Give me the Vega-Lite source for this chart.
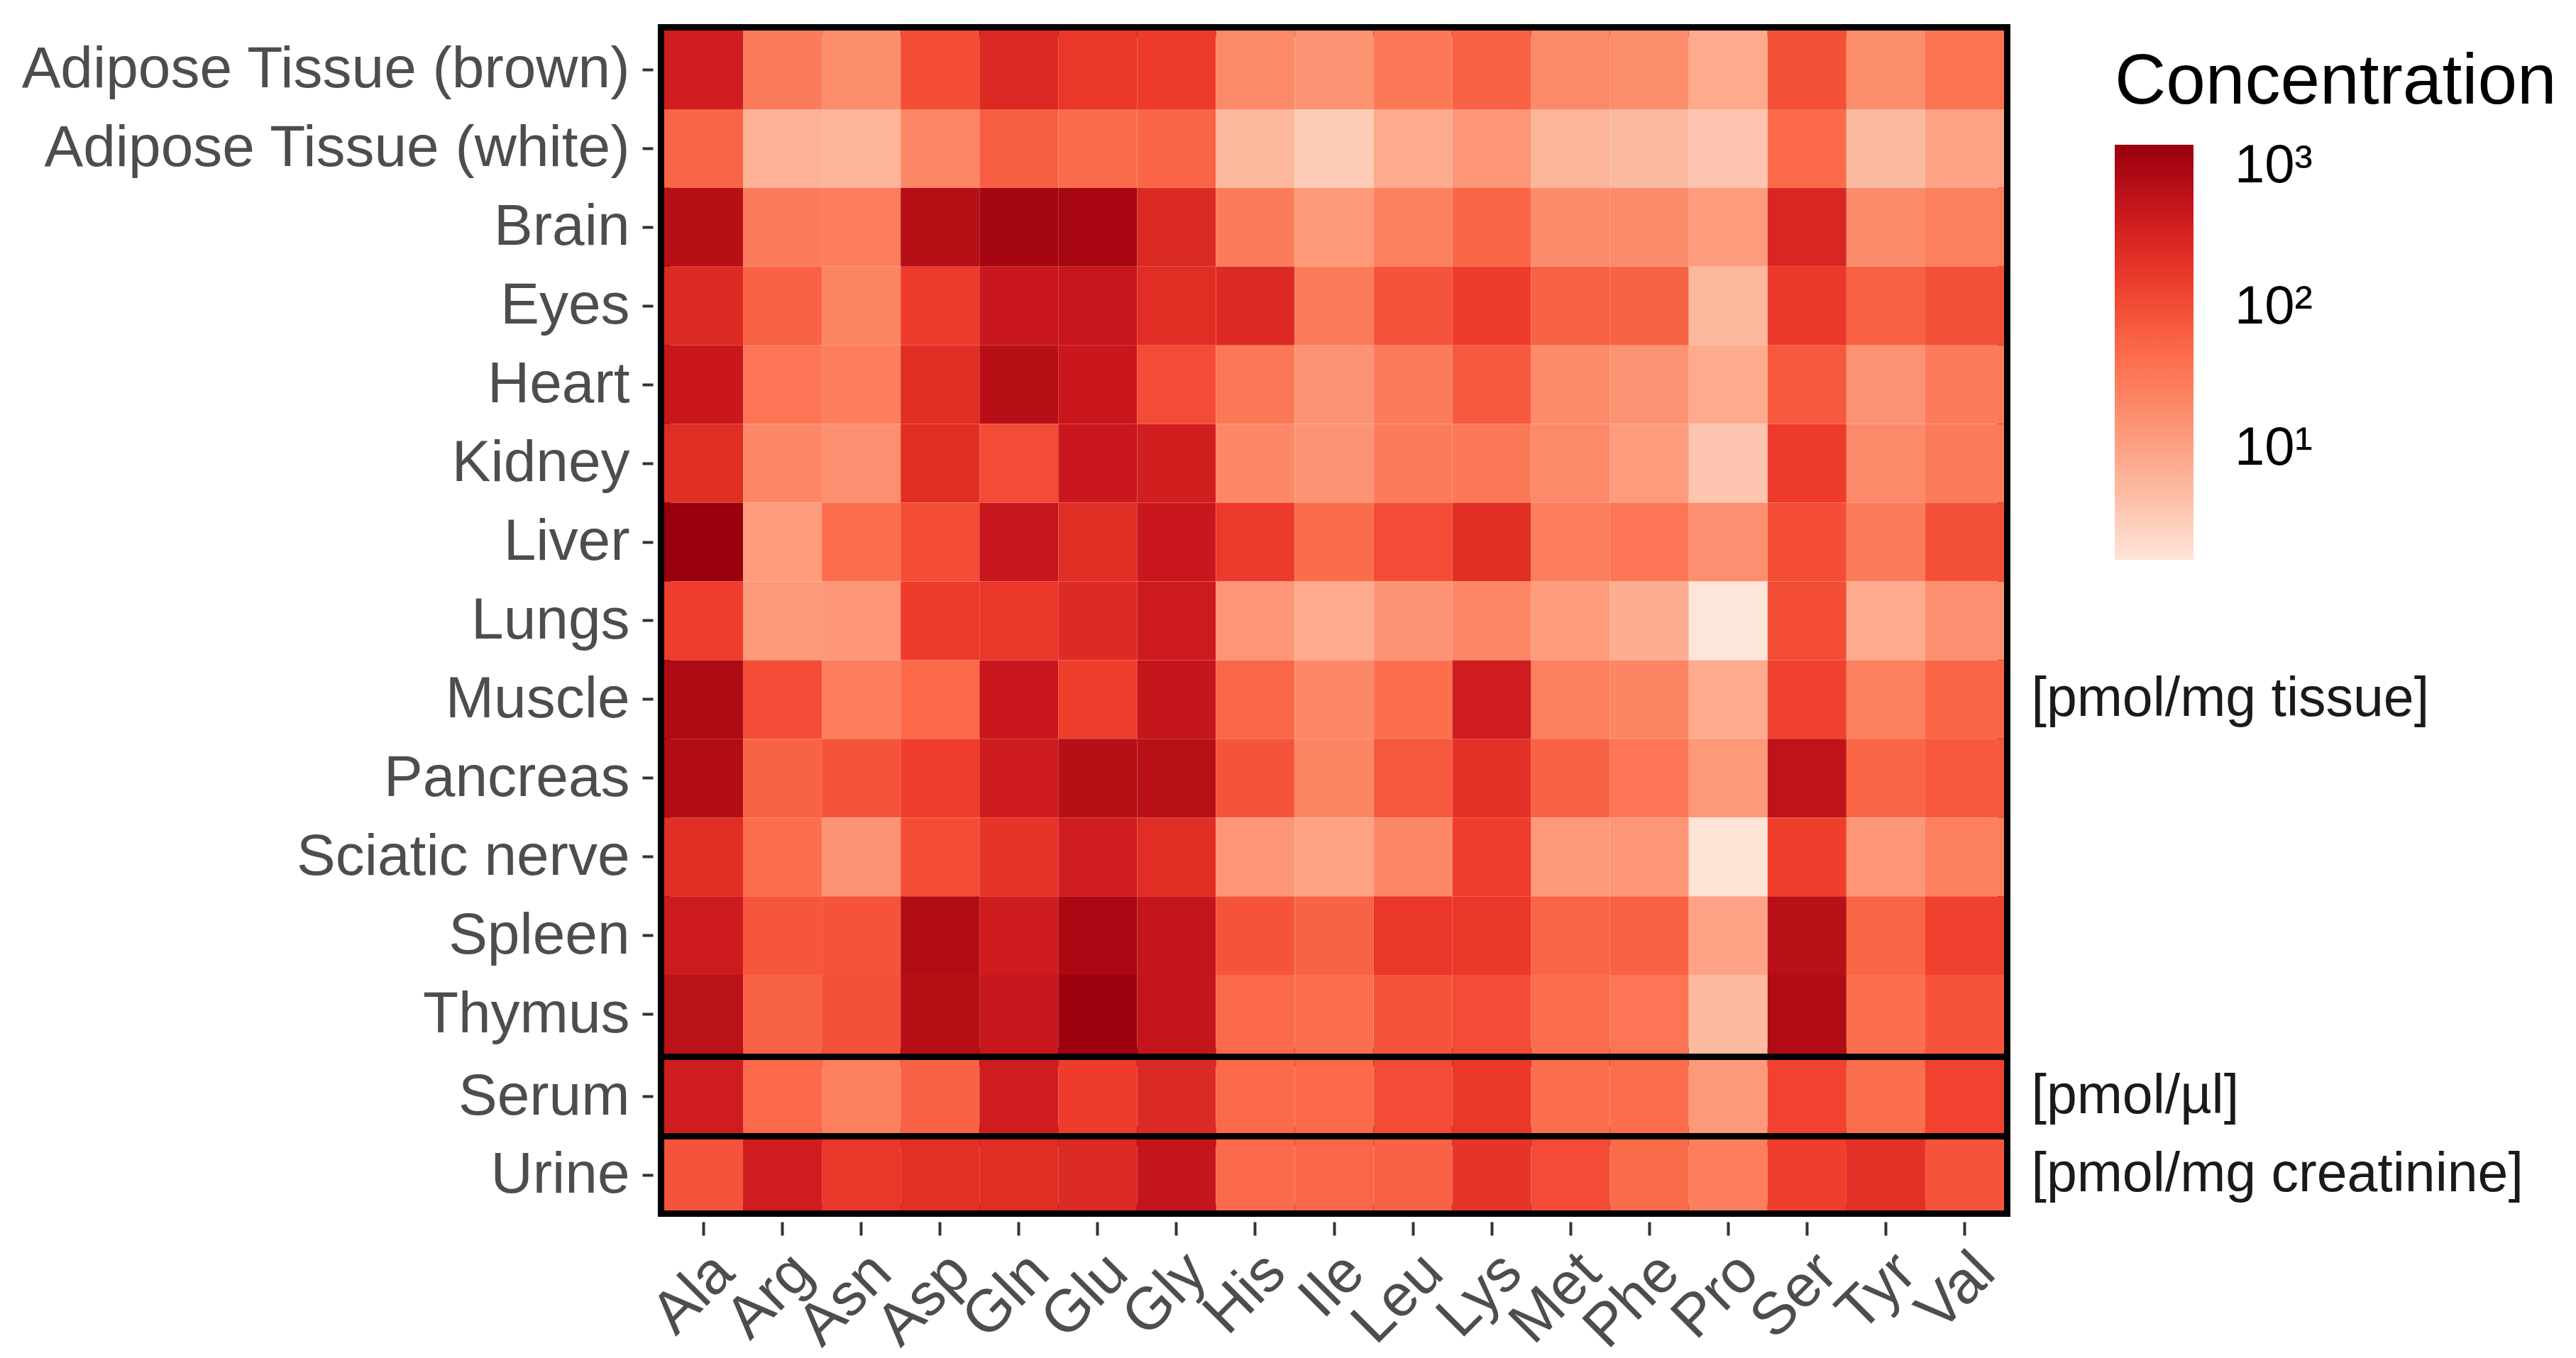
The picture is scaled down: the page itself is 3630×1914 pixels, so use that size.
{
  "$schema": "https://vega.github.io/schema/vega-lite/v6.json",
  "padding": {"left": 19, "top": 34, "right": 0, "bottom": 0},
  "background": "white",
  "config": {
    "font": "Liberation Sans",
    "view": {"stroke": "black", "strokeWidth": 18},
    "axis": {"grid": false, "domain": false, "labelFont": "Liberation Sans", "labelColor": "#4d4d4d", "labelFontSize": 82, "labelLimit": 3000, "tickColor": "#333333", "tickWidth": 4, "title": null}
  },
  "datasets": {
    "conc": [
      {"tissue":"Adipose Tissue (brown)","panel":"tissue","amino":"Ala","value":400},{"tissue":"Adipose Tissue (brown)","panel":"tissue","amino":"Arg","value":30},{"tissue":"Adipose Tissue (brown)","panel":"tissue","amino":"Asn","value":18},{"tissue":"Adipose Tissue (brown)","panel":"tissue","amino":"Asp","value":100},{"tissue":"Adipose Tissue (brown)","panel":"tissue","amino":"Gln","value":280},{"tissue":"Adipose Tissue (brown)","panel":"tissue","amino":"Glu","value":170},{"tissue":"Adipose Tissue (brown)","panel":"tissue","amino":"Gly","value":155},{"tissue":"Adipose Tissue (brown)","panel":"tissue","amino":"His","value":20},{"tissue":"Adipose Tissue (brown)","panel":"tissue","amino":"Ile","value":15},{"tissue":"Adipose Tissue (brown)","panel":"tissue","amino":"Leu","value":33},{"tissue":"Adipose Tissue (brown)","panel":"tissue","amino":"Lys","value":60},{"tissue":"Adipose Tissue (brown)","panel":"tissue","amino":"Met","value":20},{"tissue":"Adipose Tissue (brown)","panel":"tissue","amino":"Phe","value":18},{"tissue":"Adipose Tissue (brown)","panel":"tissue","amino":"Pro","value":8},{"tissue":"Adipose Tissue (brown)","panel":"tissue","amino":"Ser","value":95},{"tissue":"Adipose Tissue (brown)","panel":"tissue","amino":"Tyr","value":18},{"tissue":"Adipose Tissue (brown)","panel":"tissue","amino":"Val","value":38},
      {"tissue":"Adipose Tissue (white)","panel":"tissue","amino":"Ala","value":55},{"tissue":"Adipose Tissue (white)","panel":"tissue","amino":"Arg","value":6.5},{"tissue":"Adipose Tissue (white)","panel":"tissue","amino":"Asn","value":6},{"tissue":"Adipose Tissue (white)","panel":"tissue","amino":"Asp","value":22},{"tissue":"Adipose Tissue (white)","panel":"tissue","amino":"Gln","value":65},{"tissue":"Adipose Tissue (white)","panel":"tissue","amino":"Glu","value":45},{"tissue":"Adipose Tissue (white)","panel":"tissue","amino":"Gly","value":55},{"tissue":"Adipose Tissue (white)","panel":"tissue","amino":"His","value":5.5},{"tissue":"Adipose Tissue (white)","panel":"tissue","amino":"Ile","value":3.3},{"tissue":"Adipose Tissue (white)","panel":"tissue","amino":"Leu","value":8},{"tissue":"Adipose Tissue (white)","panel":"tissue","amino":"Lys","value":14},{"tissue":"Adipose Tissue (white)","panel":"tissue","amino":"Met","value":6},{"tissue":"Adipose Tissue (white)","panel":"tissue","amino":"Phe","value":5},{"tissue":"Adipose Tissue (white)","panel":"tissue","amino":"Pro","value":3.8},{"tissue":"Adipose Tissue (white)","panel":"tissue","amino":"Ser","value":47},{"tissue":"Adipose Tissue (white)","panel":"tissue","amino":"Tyr","value":5},{"tissue":"Adipose Tissue (white)","panel":"tissue","amino":"Val","value":10},
      {"tissue":"Brain","panel":"tissue","amino":"Ala","value":700},{"tissue":"Brain","panel":"tissue","amino":"Arg","value":30},{"tissue":"Brain","panel":"tissue","amino":"Asn","value":28},{"tissue":"Brain","panel":"tissue","amino":"Asp","value":720},{"tissue":"Brain","panel":"tissue","amino":"Gln","value":1050},{"tissue":"Brain","panel":"tissue","amino":"Glu","value":1000},{"tissue":"Brain","panel":"tissue","amino":"Gly","value":280},{"tissue":"Brain","panel":"tissue","amino":"His","value":30},{"tissue":"Brain","panel":"tissue","amino":"Ile","value":13},{"tissue":"Brain","panel":"tissue","amino":"Leu","value":26},{"tissue":"Brain","panel":"tissue","amino":"Lys","value":55},{"tissue":"Brain","panel":"tissue","amino":"Met","value":19},{"tissue":"Brain","panel":"tissue","amino":"Phe","value":19},{"tissue":"Brain","panel":"tissue","amino":"Pro","value":12},{"tissue":"Brain","panel":"tissue","amino":"Ser","value":300},{"tissue":"Brain","panel":"tissue","amino":"Tyr","value":19},{"tissue":"Brain","panel":"tissue","amino":"Val","value":27},
      {"tissue":"Eyes","panel":"tissue","amino":"Ala","value":260},{"tissue":"Eyes","panel":"tissue","amino":"Arg","value":60},{"tissue":"Eyes","panel":"tissue","amino":"Asn","value":23},{"tissue":"Eyes","panel":"tissue","amino":"Asp","value":150},{"tissue":"Eyes","panel":"tissue","amino":"Gln","value":470},{"tissue":"Eyes","panel":"tissue","amino":"Glu","value":500},{"tissue":"Eyes","panel":"tissue","amino":"Gly","value":240},{"tissue":"Eyes","panel":"tissue","amino":"His","value":260},{"tissue":"Eyes","panel":"tissue","amino":"Ile","value":30},{"tissue":"Eyes","panel":"tissue","amino":"Leu","value":85},{"tissue":"Eyes","panel":"tissue","amino":"Lys","value":150},{"tissue":"Eyes","panel":"tissue","amino":"Met","value":60},{"tissue":"Eyes","panel":"tissue","amino":"Phe","value":58},{"tissue":"Eyes","panel":"tissue","amino":"Pro","value":5.5},{"tissue":"Eyes","panel":"tissue","amino":"Ser","value":165},{"tissue":"Eyes","panel":"tissue","amino":"Tyr","value":62},{"tissue":"Eyes","panel":"tissue","amino":"Val","value":95},
      {"tissue":"Heart","panel":"tissue","amino":"Ala","value":480},{"tissue":"Heart","panel":"tissue","amino":"Arg","value":35},{"tissue":"Heart","panel":"tissue","amino":"Asn","value":28},{"tissue":"Heart","panel":"tissue","amino":"Asp","value":240},{"tissue":"Heart","panel":"tissue","amino":"Gln","value":700},{"tissue":"Heart","panel":"tissue","amino":"Glu","value":480},{"tissue":"Heart","panel":"tissue","amino":"Gly","value":105},{"tissue":"Heart","panel":"tissue","amino":"His","value":34},{"tissue":"Heart","panel":"tissue","amino":"Ile","value":15},{"tissue":"Heart","panel":"tissue","amino":"Leu","value":30},{"tissue":"Heart","panel":"tissue","amino":"Lys","value":75},{"tissue":"Heart","panel":"tissue","amino":"Met","value":19},{"tissue":"Heart","panel":"tissue","amino":"Phe","value":15},{"tissue":"Heart","panel":"tissue","amino":"Pro","value":8},{"tissue":"Heart","panel":"tissue","amino":"Ser","value":75},{"tissue":"Heart","panel":"tissue","amino":"Tyr","value":15},{"tissue":"Heart","panel":"tissue","amino":"Val","value":30},
      {"tissue":"Kidney","panel":"tissue","amino":"Ala","value":240},{"tissue":"Kidney","panel":"tissue","amino":"Arg","value":21},{"tissue":"Kidney","panel":"tissue","amino":"Asn","value":17},{"tissue":"Kidney","panel":"tissue","amino":"Asp","value":240},{"tissue":"Kidney","panel":"tissue","amino":"Gln","value":105},{"tissue":"Kidney","panel":"tissue","amino":"Glu","value":470},{"tissue":"Kidney","panel":"tissue","amino":"Gly","value":380},{"tissue":"Kidney","panel":"tissue","amino":"His","value":21},{"tissue":"Kidney","panel":"tissue","amino":"Ile","value":15},{"tissue":"Kidney","panel":"tissue","amino":"Leu","value":30},{"tissue":"Kidney","panel":"tissue","amino":"Lys","value":32},{"tissue":"Kidney","panel":"tissue","amino":"Met","value":20},{"tissue":"Kidney","panel":"tissue","amino":"Phe","value":12},{"tissue":"Kidney","panel":"tissue","amino":"Pro","value":3.8},{"tissue":"Kidney","panel":"tissue","amino":"Ser","value":155},{"tissue":"Kidney","panel":"tissue","amino":"Tyr","value":20},{"tissue":"Kidney","panel":"tissue","amino":"Val","value":30},
      {"tissue":"Liver","panel":"tissue","amino":"Ala","value":1400},{"tissue":"Liver","panel":"tissue","amino":"Arg","value":12},{"tissue":"Liver","panel":"tissue","amino":"Asn","value":44},{"tissue":"Liver","panel":"tissue","amino":"Asp","value":100},{"tissue":"Liver","panel":"tissue","amino":"Gln","value":500},{"tissue":"Liver","panel":"tissue","amino":"Glu","value":240},{"tissue":"Liver","panel":"tissue","amino":"Gly","value":470},{"tissue":"Liver","panel":"tissue","amino":"His","value":160},{"tissue":"Liver","panel":"tissue","amino":"Ile","value":46},{"tissue":"Liver","panel":"tissue","amino":"Leu","value":105},{"tissue":"Liver","panel":"tissue","amino":"Lys","value":230},{"tissue":"Liver","panel":"tissue","amino":"Met","value":29},{"tissue":"Liver","panel":"tissue","amino":"Phe","value":36},{"tissue":"Liver","panel":"tissue","amino":"Pro","value":17},{"tissue":"Liver","panel":"tissue","amino":"Ser","value":100},{"tissue":"Liver","panel":"tissue","amino":"Tyr","value":30},{"tissue":"Liver","panel":"tissue","amino":"Val","value":95},
      {"tissue":"Lungs","panel":"tissue","amino":"Ala","value":145},{"tissue":"Lungs","panel":"tissue","amino":"Arg","value":13},{"tissue":"Lungs","panel":"tissue","amino":"Asn","value":14},{"tissue":"Lungs","panel":"tissue","amino":"Asp","value":150},{"tissue":"Lungs","panel":"tissue","amino":"Gln","value":175},{"tissue":"Lungs","panel":"tissue","amino":"Glu","value":260},{"tissue":"Lungs","panel":"tissue","amino":"Gly","value":430},{"tissue":"Lungs","panel":"tissue","amino":"His","value":14},{"tissue":"Lungs","panel":"tissue","amino":"Ile","value":8},{"tissue":"Lungs","panel":"tissue","amino":"Leu","value":14.5},{"tissue":"Lungs","panel":"tissue","amino":"Lys","value":22},{"tissue":"Lungs","panel":"tissue","amino":"Met","value":12},{"tissue":"Lungs","panel":"tissue","amino":"Phe","value":7.5},{"tissue":"Lungs","panel":"tissue","amino":"Pro","value":1.63},{"tissue":"Lungs","panel":"tissue","amino":"Ser","value":100},{"tissue":"Lungs","panel":"tissue","amino":"Tyr","value":8},{"tissue":"Lungs","panel":"tissue","amino":"Val","value":17},
      {"tissue":"Muscle","panel":"tissue","amino":"Ala","value":850},{"tissue":"Muscle","panel":"tissue","amino":"Arg","value":105},{"tissue":"Muscle","panel":"tissue","amino":"Asn","value":28},{"tissue":"Muscle","panel":"tissue","amino":"Asp","value":50},{"tissue":"Muscle","panel":"tissue","amino":"Gln","value":470},{"tissue":"Muscle","panel":"tissue","amino":"Glu","value":140},{"tissue":"Muscle","panel":"tissue","amino":"Gly","value":530},{"tissue":"Muscle","panel":"tissue","amino":"His","value":52},{"tissue":"Muscle","panel":"tissue","amino":"Ile","value":21},{"tissue":"Muscle","panel":"tissue","amino":"Leu","value":42},{"tissue":"Muscle","panel":"tissue","amino":"Lys","value":400},{"tissue":"Muscle","panel":"tissue","amino":"Met","value":27},{"tissue":"Muscle","panel":"tissue","amino":"Phe","value":23},{"tissue":"Muscle","panel":"tissue","amino":"Pro","value":8},{"tissue":"Muscle","panel":"tissue","amino":"Ser","value":135},{"tissue":"Muscle","panel":"tissue","amino":"Tyr","value":27},{"tissue":"Muscle","panel":"tissue","amino":"Val","value":55},
      {"tissue":"Pancreas","panel":"tissue","amino":"Ala","value":800},{"tissue":"Pancreas","panel":"tissue","amino":"Arg","value":58},{"tissue":"Pancreas","panel":"tissue","amino":"Asn","value":85},{"tissue":"Pancreas","panel":"tissue","amino":"Asp","value":145},{"tissue":"Pancreas","panel":"tissue","amino":"Gln","value":420},{"tissue":"Pancreas","panel":"tissue","amino":"Glu","value":720},{"tissue":"Pancreas","panel":"tissue","amino":"Gly","value":680},{"tissue":"Pancreas","panel":"tissue","amino":"His","value":85},{"tissue":"Pancreas","panel":"tissue","amino":"Ile","value":23},{"tissue":"Pancreas","panel":"tissue","amino":"Leu","value":75},{"tissue":"Pancreas","panel":"tissue","amino":"Lys","value":210},{"tissue":"Pancreas","panel":"tissue","amino":"Met","value":60},{"tissue":"Pancreas","panel":"tissue","amino":"Phe","value":36},{"tissue":"Pancreas","panel":"tissue","amino":"Pro","value":13},{"tissue":"Pancreas","panel":"tissue","amino":"Ser","value":600},{"tissue":"Pancreas","panel":"tissue","amino":"Tyr","value":55},{"tissue":"Pancreas","panel":"tissue","amino":"Val","value":75},
      {"tissue":"Sciatic nerve","panel":"tissue","amino":"Ala","value":240},{"tissue":"Sciatic nerve","panel":"tissue","amino":"Arg","value":42},{"tissue":"Sciatic nerve","panel":"tissue","amino":"Asn","value":15},{"tissue":"Sciatic nerve","panel":"tissue","amino":"Asp","value":100},{"tissue":"Sciatic nerve","panel":"tissue","amino":"Gln","value":190},{"tissue":"Sciatic nerve","panel":"tissue","amino":"Glu","value":400},{"tissue":"Sciatic nerve","panel":"tissue","amino":"Gly","value":240},{"tissue":"Sciatic nerve","panel":"tissue","amino":"His","value":14},{"tissue":"Sciatic nerve","panel":"tissue","amino":"Ile","value":10},{"tissue":"Sciatic nerve","panel":"tissue","amino":"Leu","value":21},{"tissue":"Sciatic nerve","panel":"tissue","amino":"Lys","value":140},{"tissue":"Sciatic nerve","panel":"tissue","amino":"Met","value":13},{"tissue":"Sciatic nerve","panel":"tissue","amino":"Phe","value":14},{"tissue":"Sciatic nerve","panel":"tissue","amino":"Pro","value":1.7},{"tissue":"Sciatic nerve","panel":"tissue","amino":"Ser","value":140},{"tissue":"Sciatic nerve","panel":"tissue","amino":"Tyr","value":14},{"tissue":"Sciatic nerve","panel":"tissue","amino":"Val","value":27},
      {"tissue":"Spleen","panel":"tissue","amino":"Ala","value":430},{"tissue":"Spleen","panel":"tissue","amino":"Arg","value":82},{"tissue":"Spleen","panel":"tissue","amino":"Asn","value":85},{"tissue":"Spleen","panel":"tissue","amino":"Asp","value":820},{"tissue":"Spleen","panel":"tissue","amino":"Gln","value":420},{"tissue":"Spleen","panel":"tissue","amino":"Glu","value":950},{"tissue":"Spleen","panel":"tissue","amino":"Gly","value":530},{"tissue":"Spleen","panel":"tissue","amino":"His","value":85},{"tissue":"Spleen","panel":"tissue","amino":"Ile","value":58},{"tissue":"Spleen","panel":"tissue","amino":"Leu","value":170},{"tissue":"Spleen","panel":"tissue","amino":"Lys","value":170},{"tissue":"Spleen","panel":"tissue","amino":"Met","value":55},{"tissue":"Spleen","panel":"tissue","amino":"Phe","value":60},{"tissue":"Spleen","panel":"tissue","amino":"Pro","value":10},{"tissue":"Spleen","panel":"tissue","amino":"Ser","value":680},{"tissue":"Spleen","panel":"tissue","amino":"Tyr","value":55},{"tissue":"Spleen","panel":"tissue","amino":"Val","value":135},
      {"tissue":"Thymus","panel":"tissue","amino":"Ala","value":650},{"tissue":"Thymus","panel":"tissue","amino":"Arg","value":58},{"tissue":"Thymus","panel":"tissue","amino":"Asn","value":95},{"tissue":"Thymus","panel":"tissue","amino":"Asp","value":720},{"tissue":"Thymus","panel":"tissue","amino":"Gln","value":500},{"tissue":"Thymus","panel":"tissue","amino":"Glu","value":1300},{"tissue":"Thymus","panel":"tissue","amino":"Gly","value":530},{"tissue":"Thymus","panel":"tissue","amino":"His","value":48},{"tissue":"Thymus","panel":"tissue","amino":"Ile","value":42},{"tissue":"Thymus","panel":"tissue","amino":"Leu","value":85},{"tissue":"Thymus","panel":"tissue","amino":"Lys","value":105},{"tissue":"Thymus","panel":"tissue","amino":"Met","value":44},{"tissue":"Thymus","panel":"tissue","amino":"Phe","value":36},{"tissue":"Thymus","panel":"tissue","amino":"Pro","value":5},{"tissue":"Thymus","panel":"tissue","amino":"Ser","value":820},{"tissue":"Thymus","panel":"tissue","amino":"Tyr","value":42},{"tissue":"Thymus","panel":"tissue","amino":"Val","value":85},
      {"tissue":"Serum","panel":"serum","amino":"Ala","value":400},{"tissue":"Serum","panel":"serum","amino":"Arg","value":48},{"tissue":"Serum","panel":"serum","amino":"Asn","value":26},{"tissue":"Serum","panel":"serum","amino":"Asp","value":60},{"tissue":"Serum","panel":"serum","amino":"Gln","value":400},{"tissue":"Serum","panel":"serum","amino":"Glu","value":150},{"tissue":"Serum","panel":"serum","amino":"Gly","value":280},{"tissue":"Serum","panel":"serum","amino":"His","value":48},{"tissue":"Serum","panel":"serum","amino":"Ile","value":50},{"tissue":"Serum","panel":"serum","amino":"Leu","value":105},{"tissue":"Serum","panel":"serum","amino":"Lys","value":170},{"tissue":"Serum","panel":"serum","amino":"Met","value":42},{"tissue":"Serum","panel":"serum","amino":"Phe","value":44},{"tissue":"Serum","panel":"serum","amino":"Pro","value":13},{"tissue":"Serum","panel":"serum","amino":"Ser","value":130},{"tissue":"Serum","panel":"serum","amino":"Tyr","value":42},{"tissue":"Serum","panel":"serum","amino":"Val","value":130},
      {"tissue":"Urine","panel":"urine","amino":"Ala","value":85},{"tissue":"Urine","panel":"urine","amino":"Arg","value":400},{"tissue":"Urine","panel":"urine","amino":"Asn","value":170},{"tissue":"Urine","panel":"urine","amino":"Asp","value":220},{"tissue":"Urine","panel":"urine","amino":"Gln","value":240},{"tissue":"Urine","panel":"urine","amino":"Glu","value":270},{"tissue":"Urine","panel":"urine","amino":"Gly","value":530},{"tissue":"Urine","panel":"urine","amino":"His","value":48},{"tissue":"Urine","panel":"urine","amino":"Ile","value":52},{"tissue":"Urine","panel":"urine","amino":"Leu","value":60},{"tissue":"Urine","panel":"urine","amino":"Lys","value":190},{"tissue":"Urine","panel":"urine","amino":"Met","value":105},{"tissue":"Urine","panel":"urine","amino":"Phe","value":46},{"tissue":"Urine","panel":"urine","amino":"Pro","value":28},{"tissue":"Urine","panel":"urine","amino":"Ser","value":140},{"tissue":"Urine","panel":"urine","amino":"Tyr","value":210},{"tissue":"Urine","panel":"urine","amino":"Val","value":85}
    ]
  },
  "data": {"name": "conc"},
  "spacing": -9,
  "resolve": {"scale": {"x": "shared", "y": "independent", "color": "shared"}},
  "vconcat": [
    {
      "transform": [{"filter": "datum.panel == 'tissue'"}],
      "width": 1888,
      "height": 1442,
      "layer": [
        {
          "mark": {"type": "rect"},
          "encoding": {
            "x": {"field": "amino", "type": "nominal", "sort": ["Ala","Arg","Asn","Asp","Gln","Glu","Gly","His","Ile","Leu","Lys","Met","Phe","Pro","Ser","Tyr","Val"], "axis": null},
            "y": {"field": "tissue", "type": "nominal", "sort": ["Adipose Tissue (brown)","Adipose Tissue (white)","Brain","Eyes","Heart","Kidney","Liver","Lungs","Muscle","Pancreas","Sciatic nerve","Spleen","Thymus"], "axis": {"orient": "left", "offset": 16, "tickSize": 15, "labelPadding": 18}},
            "color": {"field": "value", "type": "quantitative",
              "scale": {"type": "log", "domain": [1.63, 5.02, 15.5, 48, 148.3, 458, 1416], "range": ["#fee5d9","#fcbba1","#fc9272","#fb6a4a","#ef3b2c","#cb181d","#99000d"], "interpolate": "lab"},
              "legend": {"orient": "none", "legendX": 2044, "legendY": 24, "direction": "vertical", "title": "Concentration", "titleFontSize": 100, "titleFontWeight": "normal", "titleColor": "black", "titleFont": "Liberation Sans", "titlePadding": 37, "titleLimit": 3000, "gradientLength": 585, "gradientThickness": 111, "gradientStrokeWidth": 0, "labelFontSize": 76, "labelColor": "black", "labelFont": "Liberation Sans", "labelOffset": 58, "labelLimit": 1000, "values": [10, 100, 1000], "labelExpr": "datum.value == 10 ? '10¹' : datum.value == 100 ? '10²' : '10³'", "padding": 0}}
          }
        },
        {
          "mark": {"type": "rect", "opacity": 0},
          "encoding": {
            "x": {"field": "amino", "type": "nominal", "sort": ["Ala","Arg","Asn","Asp","Gln","Glu","Gly","His","Ile","Leu","Lys","Met","Phe","Pro","Ser","Tyr","Val"], "axis": null},
            "y": {"field": "tissue", "type": "nominal", "sort": ["Adipose Tissue (brown)","Adipose Tissue (white)","Brain","Eyes","Heart","Kidney","Liver","Lungs","Muscle","Pancreas","Sciatic nerve","Spleen","Thymus"], "axis": {"orient": "right", "ticks": false, "tickSize": 0, "labelPadding": 38, "labelColor": "#1a1a1a", "labelFontSize": 77, "labelExpr": "datum.value == 'Muscle' ? '[pmol/mg tissue]' : ''"}}
          }
        }
      ],
      "resolve": {"axis": {"y": "independent"}}
    },
    {
      "transform": [{"filter": "datum.panel == 'serum'"}],
      "width": 1888,
      "height": 103,
      "layer": [
        {
          "mark": {"type": "rect"},
          "encoding": {
            "x": {"field": "amino", "type": "nominal", "sort": ["Ala","Arg","Asn","Asp","Gln","Glu","Gly","His","Ile","Leu","Lys","Met","Phe","Pro","Ser","Tyr","Val"], "axis": null},
            "y": {"field": "tissue", "type": "nominal", "axis": {"orient": "left", "offset": 16, "tickSize": 15, "labelPadding": 18}},
            "color": {"field": "value", "type": "quantitative",
              "scale": {"type": "log", "domain": [1.63, 5.02, 15.5, 48, 148.3, 458, 1416], "range": ["#fee5d9","#fcbba1","#fc9272","#fb6a4a","#ef3b2c","#cb181d","#99000d"], "interpolate": "lab"},
              "legend": {"orient": "none", "legendX": 2044, "legendY": 24, "direction": "vertical", "title": "Concentration", "titleFontSize": 100, "titleFontWeight": "normal", "titleColor": "black", "titleFont": "Liberation Sans", "titlePadding": 37, "titleLimit": 3000, "gradientLength": 585, "gradientThickness": 111, "gradientStrokeWidth": 0, "labelFontSize": 76, "labelColor": "black", "labelFont": "Liberation Sans", "labelOffset": 58, "labelLimit": 1000, "values": [10, 100, 1000], "labelExpr": "datum.value == 10 ? '10¹' : datum.value == 100 ? '10²' : '10³'", "padding": 0}}
          }
        },
        {
          "mark": {"type": "rect", "opacity": 0},
          "encoding": {
            "x": {"field": "amino", "type": "nominal", "sort": ["Ala","Arg","Asn","Asp","Gln","Glu","Gly","His","Ile","Leu","Lys","Met","Phe","Pro","Ser","Tyr","Val"], "axis": null},
            "y": {"field": "tissue", "type": "nominal", "axis": {"orient": "right", "ticks": false, "tickSize": 0, "labelPadding": 38, "labelColor": "#1a1a1a", "labelFontSize": 77, "labelExpr": "'[pmol/µl]'"}}
          }
        }
      ],
      "resolve": {"axis": {"y": "independent"}}
    },
    {
      "transform": [{"filter": "datum.panel == 'urine'"}],
      "width": 1888,
      "height": 100,
      "layer": [
        {
          "mark": {"type": "rect"},
          "encoding": {
            "x": {"field": "amino", "type": "nominal", "sort": ["Ala","Arg","Asn","Asp","Gln","Glu","Gly","His","Ile","Leu","Lys","Met","Phe","Pro","Ser","Tyr","Val"], "axis": {"orient": "bottom", "offset": 16, "tickSize": 19, "labelAngle": -45, "labelAlign": "right", "labelBaseline": "top", "labelPadding": 10, "labelFontSize": 84}},
            "y": {"field": "tissue", "type": "nominal", "axis": {"orient": "left", "offset": 16, "tickSize": 15, "labelPadding": 18}},
            "color": {"field": "value", "type": "quantitative",
              "scale": {"type": "log", "domain": [1.63, 5.02, 15.5, 48, 148.3, 458, 1416], "range": ["#fee5d9","#fcbba1","#fc9272","#fb6a4a","#ef3b2c","#cb181d","#99000d"], "interpolate": "lab"},
              "legend": {"orient": "none", "legendX": 2044, "legendY": 24, "direction": "vertical", "title": "Concentration", "titleFontSize": 100, "titleFontWeight": "normal", "titleColor": "black", "titleFont": "Liberation Sans", "titlePadding": 37, "titleLimit": 3000, "gradientLength": 585, "gradientThickness": 111, "gradientStrokeWidth": 0, "labelFontSize": 76, "labelColor": "black", "labelFont": "Liberation Sans", "labelOffset": 58, "labelLimit": 1000, "values": [10, 100, 1000], "labelExpr": "datum.value == 10 ? '10¹' : datum.value == 100 ? '10²' : '10³'", "padding": 0}}
          }
        },
        {
          "mark": {"type": "rect", "opacity": 0},
          "encoding": {
            "x": {"field": "amino", "type": "nominal", "sort": ["Ala","Arg","Asn","Asp","Gln","Glu","Gly","His","Ile","Leu","Lys","Met","Phe","Pro","Ser","Tyr","Val"], "axis": {"orient": "bottom", "offset": 16, "tickSize": 19, "labelAngle": -45, "labelAlign": "right", "labelBaseline": "top", "labelPadding": 10, "labelFontSize": 84}},
            "y": {"field": "tissue", "type": "nominal", "axis": {"orient": "right", "ticks": false, "tickSize": 0, "labelPadding": 38, "labelColor": "#1a1a1a", "labelFontSize": 77, "labelExpr": "'[pmol/mg creatinine]'"}}
          }
        }
      ],
      "resolve": {"axis": {"y": "independent"}}
    }
  ]
}
